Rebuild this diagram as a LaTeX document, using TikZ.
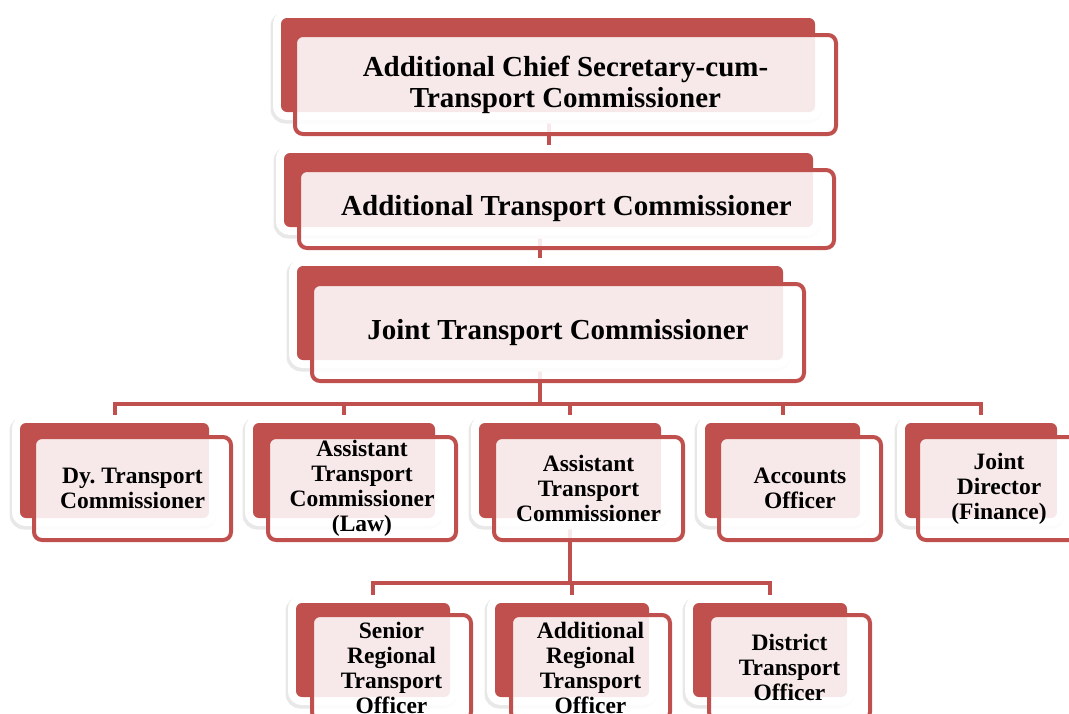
\documentclass[tikz,border=0pt]{standalone}
\usepackage{fontspec}
\setmainfont{Liberation Serif}
\usetikzlibrary{calc}
\definecolor{accred}{HTML}{C0504D}
\pgfdeclarelayer{lines}
\pgfdeclarelayer{back}
\pgfsetlayers{lines,back,main}
\frenchspacing
\tikzset{
	backbox/.style={fill=accred,rounded corners=6pt,inner sep=0pt,
		preaction={draw=black!9,line width=18pt,transform canvas={shift={(-1.5pt,-2.5pt)}}},
		preaction={draw=white,line width=16pt}},
	frontbox/.style={draw=accred,line width=4pt,rounded corners=8pt,fill=white,fill opacity=0.88,text opacity=1,
		inner sep=0pt,align=center,font=\bfseries\fontsize{23.5}{25}\selectfont},
	bigtext/.style={font=\bfseries\fontsize{29}{31}\selectfont},
	link/.style={draw=accred,line width=4pt}
}
\begin{document}
\begin{tikzpicture}[x=1pt,y=-1pt]
	\useasboundingbox (0,0) rectangle (1069,713);
	\clip (0,0) rectangle (1069,713);
	%red boxes at the back
	\begin{pgfonlayer}{back}
		\node[backbox,minimum width=534,minimum height=94] (acs_back) at (548,65) {};
		\node[backbox,minimum width=529,minimum height=74] (atc_back) at (548.5,190) {};
		\node[backbox,minimum width=486,minimum height=94] (jtc_back) at (540,313) {};
		\node[backbox,minimum width=189,minimum height=95] (dytc_back) at (114.5,470.5) {};
		\node[backbox,minimum width=182,minimum height=95] (atcl_back) at (344,470.5) {};
		\node[backbox,minimum width=182,minimum height=95] (astc_back) at (570,470.5) {};
		\node[backbox,minimum width=155,minimum height=95] (ao_back) at (782.5,470.5) {};
		\node[backbox,minimum width=152,minimum height=95] (jdf_back) at (981,470.5) {};
		\node[backbox,minimum width=154,minimum height=94] (srto_back) at (373,650) {};
		\node[backbox,minimum width=154,minimum height=94] (arto_back) at (572,650) {};
		\node[backbox,minimum width=154,minimum height=94] (dto_back) at (770,650) {};
	\end{pgfonlayer}
	%boxes with the titles
	\node[frontbox,bigtext,minimum width=541,minimum height=99] (acs) at (565.5,84.5) {Additional Chief Secretary-cum-\\Transport Commissioner};
	\node[frontbox,bigtext,minimum width=535,minimum height=78] (atc) at (566.5,209) {Additional Transport Commissioner};
	\node[frontbox,bigtext,minimum width=492,minimum height=97] (jtc) at (558,332.5) {Joint Transport Commissioner};
	\node[frontbox,minimum width=197,minimum height=103] (dytc) at (132.5,488.5) {Dy. Transport\\Commissioner};
	\node[frontbox,minimum width=188,minimum height=103] (atcl) at (362,488.5) {Assistant\\Transport\\Commissioner\\(Law)};
	\node[frontbox,minimum width=189,minimum height=103] (astc) at (588.5,488.5) {Assistant\\Transport\\Commissioner};
	\node[frontbox,minimum width=162,minimum height=103] (ao) at (800,488.5) {Accounts\\Officer};
	\node[frontbox,minimum width=162,minimum height=103] (jdf) at (999,488.5) {Joint\\Director\\(Finance)};
	\node[frontbox,minimum width=159,minimum height=105] (srto) at (391.5,667.5) {Senior\\Regional\\Transport\\Officer};
	\node[frontbox,minimum width=159,minimum height=105] (arto) at (590.5,667.5) {Additional\\Regional\\Transport\\Officer};
	\node[frontbox,minimum width=161,minimum height=105] (dto) at (789.5,667.5) {District\\Transport\\Officer};
	%connecting lines
	\begin{pgfonlayer}{lines}
		\coordinate (bus_top) at (540,404);
		\coordinate (bus_low) at (570,583);
		\draw[link] (atc_back.center)--(atc_back.center |- acs_back.center);
		\draw[link] (jtc_back.center)--(jtc_back.center |- atc_back.center);
		\draw[link] (jtc_back.center)--(bus_top) -| (dytc_back.center);
		\draw[link] (jtc_back.center)--(bus_top) -| (atcl_back.center);
		\draw[link] (jtc_back.center)--(bus_top) -| (astc_back.center);
		\draw[link] (jtc_back.center)--(bus_top) -| (ao_back.center);
		\draw[link] (jtc_back.center)--(bus_top) -| (jdf_back.center);
		\draw[link] (astc_back.center)--(bus_low) -| (srto_back.center);
		\draw[link] (astc_back.center)--(bus_low) -| (arto_back.center);
		\draw[link] (astc_back.center)--(bus_low) -| (dto_back.center);
	\end{pgfonlayer}
\end{tikzpicture}
\end{document}
